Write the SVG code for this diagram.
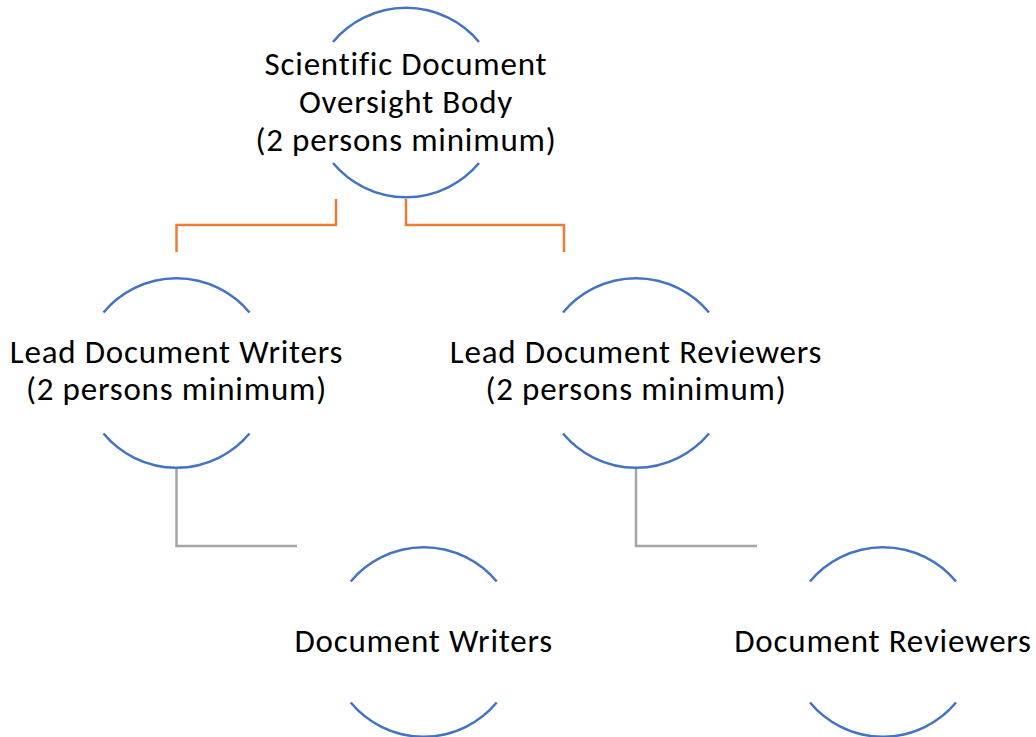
<svg xmlns="http://www.w3.org/2000/svg" width="1036" height="737" viewBox="0 0 1036 737">
<style>
.arc{fill:none;stroke:#4472C4;stroke-width:2.5}
.lbl{font-family:Carlito,Lato,"Liberation Sans",sans-serif;font-size:33px;letter-spacing:0.8px;font-variant-ligatures:none;fill:#000;text-anchor:middle}
.orange{fill:none;stroke:#ED7D31;stroke-width:2.5}
.gray{fill:none;stroke:#A5A5A5;stroke-width:2.5}
</style>
<rect width="1036" height="737" fill="#fff"/>
<g id="connectors">
<path class="orange" d="M336 199 V225 H176.5 V252"/>
<path class="orange" d="M406 199 V225 H564 V252"/>
<path class="gray" d="M176.5 467 V546 H297"/>
<path class="gray" d="M636 467 V546 H757"/>
</g>
<g id="node-oversight">
<path class="arc" d="M333 42 A95 95 0 0 1 479 42"/>
<path class="arc" d="M333 163 A95 95 0 0 0 479 163"/>
<text class="lbl" x="406" y="75">Scientific Document</text>
<text class="lbl" x="406" y="113">Oversight Body</text>
<text class="lbl" x="406" y="151">(2 persons minimum)</text>
</g>
<g id="node-lead-writers">
<path class="arc" d="M103.5 312.5 A95 95 0 0 1 249.5 312.5"/>
<path class="arc" d="M103.5 433.5 A95 95 0 0 0 249.5 433.5"/>
<text class="lbl" x="176.5" y="363">Lead Document Writers</text>
<text class="lbl" x="176.5" y="400">(2 persons minimum)</text>
</g>
<g id="node-lead-reviewers">
<path class="arc" d="M563 312.5 A95 95 0 0 1 709 312.5"/>
<path class="arc" d="M563 433.5 A95 95 0 0 0 709 433.5"/>
<text class="lbl" x="636" y="363">Lead Document Reviewers</text>
<text class="lbl" x="636" y="400">(2 persons minimum)</text>
</g>
<g id="node-writers">
<path class="arc" d="M350.7 581.5 A95 95 0 0 1 496.7 581.5"/>
<path class="arc" d="M350.7 702.5 A95 95 0 0 0 496.7 702.5"/>
<text class="lbl" x="423.7" y="652">Document Writers</text>
</g>
<g id="node-reviewers">
<path class="arc" d="M810 581.5 A95 95 0 0 1 956 581.5"/>
<path class="arc" d="M810 702.5 A95 95 0 0 0 956 702.5"/>
<text class="lbl" x="883" y="652">Document Reviewers</text>
</g>
</svg>
